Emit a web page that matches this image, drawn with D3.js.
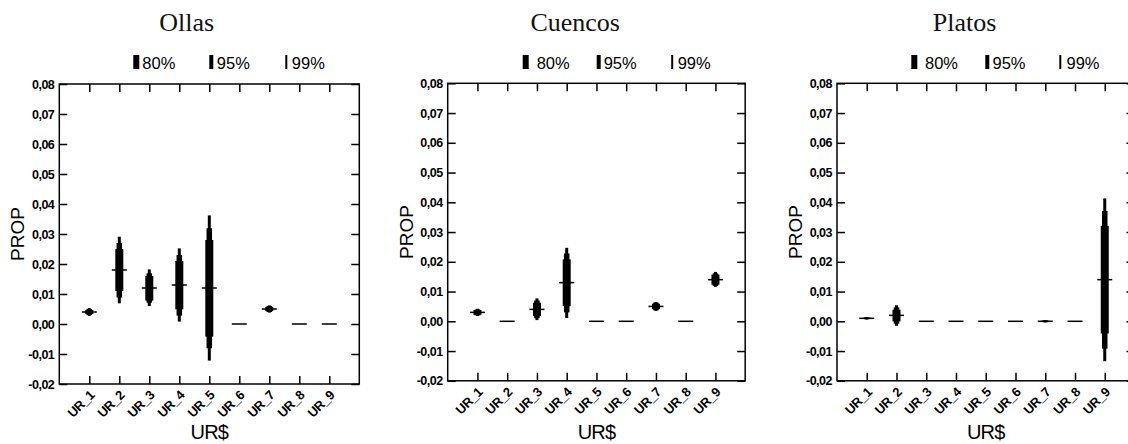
<!DOCTYPE html>
<html>
<head>
<meta charset="utf-8">
<script src="https://cdn.jsdelivr.net/npm/d3@7/dist/d3.min.js"></script>
<style>
  html, body { margin: 0; padding: 0; background: #fff; }
  svg { display: block; }
</style>
</head>
<body>
<svg id="chart" width="1128" height="444"></svg>
<script>
// Categories (spatial units) shared by all three vessel types
const categories = ["UR_1", "UR_2", "UR_3", "UR_4", "UR_5", "UR_6", "UR_7", "UR_8", "UR_9"];
const panelTitles = ["Ollas", "Cuencos", "Platos"];
const yTicks = [-0.02, -0.01, 0.00, 0.01, 0.02, 0.03, 0.04, 0.05, 0.06, 0.07, 0.08];
const legendLabels = ["80%", "95%", "99%"];

// Ollas: estimated proportion and confidence limits
const ollasMedian = [0.004, 0.018, 0.012, 0.013, 0.012, 0, 0.005, 0, 0];
const ollasLo80 = [0.0033, 0.0110, 0.0078, 0.0049, -0.0042, 0, 0.0043, 0, 0];
const ollasHi80 = [0.0047, 0.0250, 0.0160, 0.0210, 0.0280, 0, 0.0057, 0, 0];
const ollasLo95 = [0.0030, 0.0088, 0.0071, 0.0028, -0.0081, 0, 0.0040, 0, 0];
const ollasHi95 = [0.0050, 0.0270, 0.0169, 0.0230, 0.0319, 0, 0.0060, 0, 0];
const ollasLo99 = [0.0027, 0.0069, 0.0060, 0.0008, -0.0122, 0, 0.0038, 0, 0];
const ollasHi99 = [0.0053, 0.0291, 0.0182, 0.0252, 0.0362, 0, 0.0062, 0, 0];

// Cuencos
const cuencosMedian = [0.003, 0, 0.004, 0.013, 0, 0, 0.005, 0, 0.014];
const cuencosLo80 = [0.0022, 0, 0.0018, 0.0051, 0, 0, 0.0041, 0, 0.0123];
const cuencosHi80 = [0.0038, 0, 0.0062, 0.0208, 0, 0, 0.0059, 0, 0.0157];
const cuencosLo95 = [0.0020, 0, 0.0010, 0.0030, 0, 0, 0.0037, 0, 0.0119];
const cuencosHi95 = [0.0040, 0, 0.0070, 0.0228, 0, 0, 0.0063, 0, 0.0161];
const cuencosLo99 = [0.0018, 0, 0.0004, 0.0011, 0, 0, 0.0035, 0, 0.0116];
const cuencosHi99 = [0.0042, 0, 0.0077, 0.0247, 0, 0, 0.0065, 0, 0.0166];

// Platos
const platosMedian = [0.001, 0.002, 0, 0, 0, 0, 0, 0, 0.014];
const platosLo80 = [0.0008, 0.0000, 0, 0, 0, 0, -0.0002, 0, -0.0041];
const platosHi80 = [0.0012, 0.0039, 0, 0, 0, 0, 0.0002, 0, 0.0321];
const platosLo95 = [0.0007, -0.0008, 0, 0, 0, 0, -0.0003, 0, -0.0092];
const platosHi95 = [0.0013, 0.0047, 0, 0, 0, 0, 0.0003, 0, 0.0371];
const platosLo99 = [0.0006, -0.0015, 0, 0, 0, 0, -0.0004, 0, -0.0134];
const platosHi99 = [0.0014, 0.0054, 0, 0, 0, 0, 0.0004, 0, 0.0413];

const panelData = [
  { median: ollasMedian, lo80: ollasLo80, hi80: ollasHi80, lo95: ollasLo95, hi95: ollasHi95, lo99: ollasLo99, hi99: ollasHi99 },
  { median: cuencosMedian, lo80: cuencosLo80, hi80: cuencosHi80, lo95: cuencosLo95, hi95: cuencosHi95, lo99: cuencosLo99, hi99: cuencosHi99 },
  { median: platosMedian, lo80: platosLo80, hi80: platosHi80, lo95: platosLo95, hi95: platosHi95, lo99: platosLo99, hi99: platosHi99 }
];

// Frame placement of each panel
const frames = [
  { left: 59.3, top: 84, size: 300 },
  { left: 447.7, top: 83.3, size: 297.5 },
  { left: 837, top: 83.3, size: 297.5 }
];
// Legend offsets (from frame left): swatch x, label x
const legendLayout = [
  [[74, 83], [150, 157.5], [226, 232.5]],
  [[75, 89], [149, 156], [223.5, 230]],
  [[74.3, 88], [148.3, 155.5], [222.3, 229.5]]
];
const legendWidths = [6, 4, 2];
const bandWidths = { w80: 8, w95: 5.5, w99: 3 };
const medianWidth = 15;

const svg = d3.select("#chart");
const fmt = v => d3.format(".2f")(v).replace(".", ",").replace("−", "-");
const sans = "'Liberation Sans', Arial, sans-serif";

frames.forEach((f, p) => {
  const g = svg.append("g");
  const d = panelData[p];
  const x = d3.scalePoint().domain(categories).range([f.left, f.left + f.size]).padding(1);
  const y = d3.scaleLinear().domain([-0.02, 0.08]).range([f.top + f.size, f.top]);

  // Title
  g.append("text")
    .attr("x", f.left + 127.5).attr("y", 31)
    .attr("text-anchor", "middle")
    .attr("font-family", "'Liberation Serif', serif")
    .attr("font-size", 26)
    .attr("fill", "#111")
    .text(panelTitles[p]);

  // Legend
  legendLabels.forEach((lab, i) => {
    const [sx, tx] = legendLayout[p][i];
    g.append("rect")
      .attr("x", f.left + sx).attr("y", 55)
      .attr("width", legendWidths[i]).attr("height", 14)
      .attr("fill", "#000");
    g.append("text")
      .attr("x", f.left + tx).attr("y", 68.5)
      .attr("font-family", sans)
      .attr("font-size", 16.5)
      .attr("fill", "#000")
      .text(lab);
  });

  // Axes: ticks point inward on all four sides
  const tickLen = 8;
  const axL = d3.axisLeft(y).tickValues(yTicks).tickSize(-tickLen).tickPadding(5).tickFormat(fmt);
  const axR = d3.axisRight(y).tickValues(yTicks).tickSize(-tickLen).tickFormat("");
  const axT = d3.axisTop(x).tickSize(-tickLen).tickFormat("");
  const axB = d3.axisBottom(x).tickSize(-tickLen).tickFormat("");

  const gl = g.append("g").attr("transform", `translate(${f.left},0)`).call(axL);
  g.append("g").attr("transform", `translate(${f.left + f.size},0)`).call(axR);
  g.append("g").attr("transform", `translate(0,${f.top})`).call(axT);
  g.append("g").attr("transform", `translate(0,${f.top + f.size})`).call(axB);

  g.selectAll(".domain").remove();
  g.selectAll(".tick line").attr("stroke", "#000").attr("stroke-width", 1.5);
  gl.selectAll(".tick text")
    .attr("font-family", sans)
    .attr("font-size", 12.5)
    .attr("font-weight", "bold")
    .attr("letter-spacing", -0.5)
    .attr("fill", "#000");

  // Frame
  g.append("rect")
    .attr("x", f.left).attr("y", f.top)
    .attr("width", f.size).attr("height", f.size)
    .attr("fill", "none").attr("stroke", "#000").attr("stroke-width", 1.5);

  // Category labels, rotated
  g.selectAll(".cat").data(categories).enter().append("text")
    .attr("class", "cat")
    .attr("transform", c => `translate(${x(c) + 6},${f.top + f.size + 12}) rotate(-45)`)
    .attr("text-anchor", "end")
    .attr("font-family", sans)
    .attr("font-size", 13)
    .attr("font-weight", "bold")
    .attr("letter-spacing", -0.4)
    .attr("fill", "#000")
    .text(c => c);

  // Axis titles
  g.append("text")
    .attr("x", f.left + f.size / 2).attr("y", 439)
    .attr("text-anchor", "middle")
    .attr("font-family", sans)
    .attr("font-size", 20)
    .attr("letter-spacing", -0.8)
    .attr("fill", "#000")
    .text("UR$");
  g.append("text")
    .attr("transform", `translate(${f.left - 35},${y(0.03)}) rotate(-90)`)
    .attr("text-anchor", "middle")
    .attr("font-family", sans)
    .attr("font-size", 19)
    .attr("fill", "#000")
    .text("PROP");

  // Interval bands: 99% (thin), 95% (medium), 80% (thick)
  const bands = [
    ["lo99", "hi99", bandWidths.w99],
    ["lo95", "hi95", bandWidths.w95],
    ["lo80", "hi80", bandWidths.w80]
  ];
  bands.forEach(([lo, hi, w]) => {
    g.selectAll(null).data(categories).enter().append("rect")
      .attr("x", c => x(c) - w / 2)
      .attr("width", w)
      .attr("y", (c, i) => y(d[hi][i]))
      .attr("height", (c, i) => y(d[lo][i]) - y(d[hi][i]))
      .attr("fill", "#000");
  });

  // Median marks
  g.selectAll(null).data(categories).enter().append("line")
    .attr("x1", c => x(c) - medianWidth / 2)
    .attr("x2", c => x(c) + medianWidth / 2)
    .attr("y1", (c, i) => y(d.median[i]))
    .attr("y2", (c, i) => y(d.median[i]))
    .attr("stroke", "#000").attr("stroke-width", 1.5);
});
</script>
</body>
</html>
